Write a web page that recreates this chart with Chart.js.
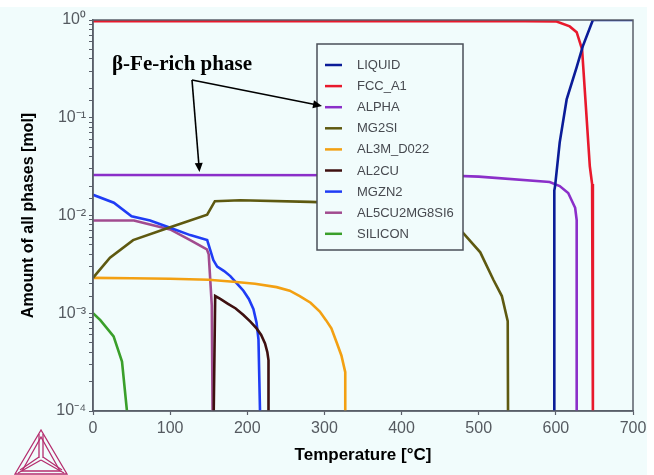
<!DOCTYPE html>
<html>
<head>
<meta charset="utf-8">
<script src="https://cdn.jsdelivr.net/npm/chart.js@4.4.1/dist/chart.umd.min.js"></script>
<style>
body { margin: 0; background: #ffffff; }
#grafico { display: block; }
</style>
</head>
<body>
<canvas id="grafico" width="654" height="475"></canvas>
<script>
// temperaturas [°C] y cantidades [mol]
var tLiquid = [598, 598, 599, 605, 614, 627, 635, 648, 700];
var vLiquid = [1e-4, 0.018, 0.020, 0.056, 0.154, 0.33, 0.54, 1.0, 1.0];

var tFcc = [0, 560, 601, 618, 627, 634, 639, 644, 647, 648];
var vFcc = [0.97, 0.97, 0.965, 0.86, 0.75, 0.50, 0.127, 0.032, 0.021, 1e-4];

var tAlpha = [0, 450, 500, 592, 605, 616, 625, 627, 627];
var vAlpha = [0.026, 0.0258, 0.025, 0.022, 0.020, 0.017, 0.012, 0.009, 1e-4];

var tMg2si = [0, 22, 52, 100, 148, 158, 191, 281, 350, 400, 440, 465, 480, 502, 519, 530, 537.6, 538];
var vMg2si = [0.0023, 0.0037, 0.0056, 0.0076, 0.0102, 0.014, 0.0143, 0.0138, 0.0132, 0.0122, 0.0105, 0.0085, 0.0066, 0.0042, 0.0022, 0.0015, 0.00083, 1e-4];

var tAl3m = [0, 50, 100, 150, 182, 210, 238, 255, 268, 282, 294, 302, 309, 316, 322, 327, 327];
var vAl3m = [0.0023, 0.00228, 0.00225, 0.0022, 0.0021, 0.0020, 0.00185, 0.0017, 0.0015, 0.00128, 0.00104, 0.00085, 0.0007, 0.0005, 0.00037, 0.00025, 1e-4];

var tAl2cu = [156.5, 158.4, 165, 175, 185, 195, 204, 212, 218, 223, 226, 227.5, 227.5];
var vAl2cu = [1e-4, 0.0015, 0.0014, 0.00125, 0.00112, 0.00096, 0.00082, 0.0007, 0.0006, 0.00049, 0.0004, 0.00033, 1e-4];

var tMgzn2 = [0, 27, 50, 74, 100, 126, 148, 156, 161, 170, 178, 187, 195, 202, 208, 212, 214.5, 216.5];
var vMgzn2 = [0.0163, 0.0135, 0.0098, 0.0089, 0.0075, 0.0063, 0.0056, 0.0035, 0.0030, 0.0027, 0.0024, 0.0020, 0.0017, 0.0014, 0.0011, 0.0008, 0.00054, 1e-4];

var tAl5cu = [0, 53, 100, 126, 147.6, 150, 152, 154, 155];
var vAl5cu = [0.0089, 0.0089, 0.0072, 0.0056, 0.0045, 0.0040, 0.0022, 0.0012, 1e-4];

var tSilicon = [0, 9.5, 26.7, 37.6, 44];
var vSilicon = [0.001, 0.00085, 0.00058, 0.00032, 1e-4];

var fases = ["LIQUID", "FCC_A1", "ALPHA", "MG2SI", "AL3M_D022", "AL2CU", "MGZN2", "AL5CU2MG8SI6", "SILICON"];
var colores = ["#0b1c98", "#e8192c", "#8b2fc9", "#5e5910", "#f3a012", "#3e1010", "#1f3cf5", "#a14b8f", "#3a9f2a"];
var xTicks = [0, 100, 200, 300, 400, 500, 600, 700];
var yTicks = [1e-4, 1e-3, 1e-2, 1e-1, 1];

var fondo = "#f1fcfc";

function puntos(t, v)
{
	var res = [];
	for(i=0; i<t.length; i++)
		res.push({x: t[i], y: v[i]});
	return res;
}

var series = [
	[tLiquid, vLiquid], [tFcc, vFcc], [tAlpha, vAlpha], [tMg2si, vMg2si], [tAl3m, vAl3m],
	[tAl2cu, vAl2cu], [tMgzn2, vMgzn2], [tAl5cu, vAl5cu], [tSilicon, vSilicon]
];

var datasets = [];
for(var k=0; k<fases.length; k++)
{
	datasets.push({
		label: fases[k],
		data: puntos(series[k][0], series[k][1]),
		borderColor: colores[k],
		backgroundColor: colores[k],
		borderWidth: 2.6,
		pointRadius: 0,
		tension: 0,
		fill: false
	});
}

function superindice(n)
{
	var mapa = {"0": "\u2070", "1": "\u00b9", "2": "\u00b2", "3": "\u00b3", "4": "\u2074", "-": "\u207b"};
	var s = String(n);
	var r = "";
	for(var j=0; j<s.length; j++)
		r += mapa[s[j]];
	return r;
}

var pluginFondo = {
	id: "fondo",
	beforeDraw: function(chart) {
		var ctx = chart.ctx;
		ctx.save();
		ctx.fillStyle = fondo;
		ctx.fillRect(0, 7, 647, 468);
		ctx.restore();
	}
};

var pluginCaja = {
	id: "caja",
	afterDraw: function(chart) {
		var ctx = chart.ctx;
		var a = chart.chartArea;
		ctx.save();
		ctx.strokeStyle = "#5a5f6a";
		ctx.lineWidth = 1.5;
		ctx.strokeRect(a.left, a.top, a.right - a.left, a.bottom - a.top);

		// leyenda dentro del grafico
		var lx = 317, ly = 44, lw = 146, lh = 206;
		ctx.fillStyle = fondo;
		ctx.fillRect(lx, ly, lw, lh);
		ctx.strokeStyle = "#4a4f58";
		ctx.lineWidth = 1.5;
		ctx.strokeRect(lx, ly, lw, lh);
		ctx.font = "13px 'Liberation Sans', Arial, sans-serif";
		ctx.textBaseline = "middle";
		for(var i=0; i<chart.data.datasets.length; i++)
		{
			var yy = 65 + i * 21.1;
			ctx.strokeStyle = chart.data.datasets[i].borderColor;
			ctx.lineWidth = 2.5;
			ctx.beginPath();
			ctx.moveTo(325, yy);
			ctx.lineTo(342, yy);
			ctx.stroke();
			ctx.fillStyle = "#474a50";
			ctx.fillText(chart.data.datasets[i].label, 357, yy + 0.5);
		}

		// anotacion beta-Fe
		var sx = chart.scales.x, sy = chart.scales.y;
		ctx.fillStyle = "#000000";
		ctx.font = "bold 21px 'Liberation Serif', 'Times New Roman', serif";
		ctx.textBaseline = "alphabetic";
		ctx.fillText("\u03b2-Fe-rich phase", 112, 70);
		var ox = 192, oy = 80;
		flecha(ctx, ox, oy, 322, 106);
		flecha(ctx, ox, oy, sx.getPixelForValue(138), sy.getPixelForValue(0.026) - 3);

		// logo
		logo(ctx);
		ctx.restore();
	}
};

function flecha(ctx, x1, y1, x2, y2)
{
	var ang = Math.atan2(y2 - y1, x2 - x1);
	var largo = 9, ancho = 4;
	ctx.strokeStyle = "#000000";
	ctx.lineWidth = 1.6;
	ctx.beginPath();
	ctx.moveTo(x1, y1);
	ctx.lineTo(x2 - largo * 0.8 * Math.cos(ang), y2 - largo * 0.8 * Math.sin(ang));
	ctx.stroke();
	ctx.fillStyle = "#000000";
	ctx.beginPath();
	ctx.moveTo(x2, y2);
	ctx.lineTo(x2 - largo * Math.cos(ang) + ancho * Math.sin(ang), y2 - largo * Math.sin(ang) - ancho * Math.cos(ang));
	ctx.lineTo(x2 - largo * Math.cos(ang) - ancho * Math.sin(ang), y2 - largo * Math.sin(ang) + ancho * Math.cos(ang));
	ctx.closePath();
	ctx.fill();
}

function logo(ctx)
{
	var ax = 41, ay = 430, bx = 15, by = 474, cx = 67, cy = 474;
	var mx = 41, my = 458;
	ctx.strokeStyle = "#b52d6e";
	ctx.lineWidth = 1.3;
	ctx.beginPath();
	ctx.moveTo(ax, ay); ctx.lineTo(bx, by); ctx.lineTo(cx, cy); ctx.closePath();
	ctx.stroke();
	ctx.beginPath();
	ctx.moveTo(ax, ay + 7); ctx.lineTo(bx + 7, by - 3); ctx.lineTo(cx - 7, cy - 3); ctx.closePath();
	ctx.stroke();
	ctx.beginPath();
	ctx.moveTo(ax - 2, ay + 4); ctx.lineTo(mx - 2, my);
	ctx.moveTo(ax + 2, ay + 4); ctx.lineTo(mx + 2, my);
	ctx.moveTo(bx + 3, by - 1); ctx.lineTo(mx, my + 2);
	ctx.moveTo(cx - 3, cy - 1); ctx.lineTo(mx, my + 2);
	ctx.moveTo(bx + 5, by - 4); ctx.lineTo(mx - 2, my - 1);
	ctx.moveTo(cx - 5, cy - 4); ctx.lineTo(mx + 2, my - 1);
	ctx.stroke();
}

var ctx = document.getElementById("grafico");
var myChart = new Chart(ctx, {
	type: "line",
	data: { datasets: datasets },
	plugins: [pluginFondo, pluginCaja],
	options: {
		responsive: false,
		animation: false,
		layout: { padding: { left: 0, right: 21, top: 20, bottom: 0 } },
		plugins: {
			legend: { display: false },
			tooltip: { enabled: false }
		},
		scales: {
			x: {
				type: "linear",
				min: 0,
				max: 700,
				afterFit: function(scale) { scale.height = 64; },
				afterBuildTicks: function(scale) {
					scale.ticks = xTicks.map(function(v) { return {value: v}; });
				},
				ticks: {
					color: "#555a60",
					font: { family: "'Liberation Sans', Arial, sans-serif", size: 16 },
					padding: 4,
					maxRotation: 0
				},
				grid: { drawOnChartArea: false, tickLength: 4, color: "#5a5f6a", tickWidth: 1.2 },
				border: { color: "#5a5f6a", width: 1.5 },
				title: {
					display: true,
					text: "Temperature [\u00b0C]",
					color: "#000000",
					font: { family: "'Liberation Sans', Arial, sans-serif", size: 17, weight: "bold" },
					padding: { top: 0, bottom: 9 }
				}
			},
			y: {
				type: "logarithmic",
				min: 1e-4,
				max: 1,
				afterFit: function(scale) { scale.width = 93; },
				ticks: {
					autoSkip: false,
					color: "#555a60",
					font: { family: "'Liberation Sans', Arial, sans-serif", size: 16 },
					padding: 3,
					callback: function(value) {
						var e = Math.log10(value);
						for(var i=0; i<yTicks.length; i++)
						{
							if(Math.abs(yTicks[i] - value) < value * 1e-6)
								return "10" + superindice(Math.round(e));
						}
						return "";
					}
				},
				grid: { drawOnChartArea: false, tickLength: 4, color: "#5a5f6a", tickWidth: 1 },
				border: { color: "#5a5f6a", width: 1.5 },
				title: {
					display: true,
					text: "Amount of all phases [mol]",
					color: "#000000",
					font: { family: "'Liberation Sans', Arial, sans-serif", size: 16, weight: "bold" },
					padding: { top: 19, bottom: 0 }
				}
			}
		}
	}
});
</script>
</body>
</html>
